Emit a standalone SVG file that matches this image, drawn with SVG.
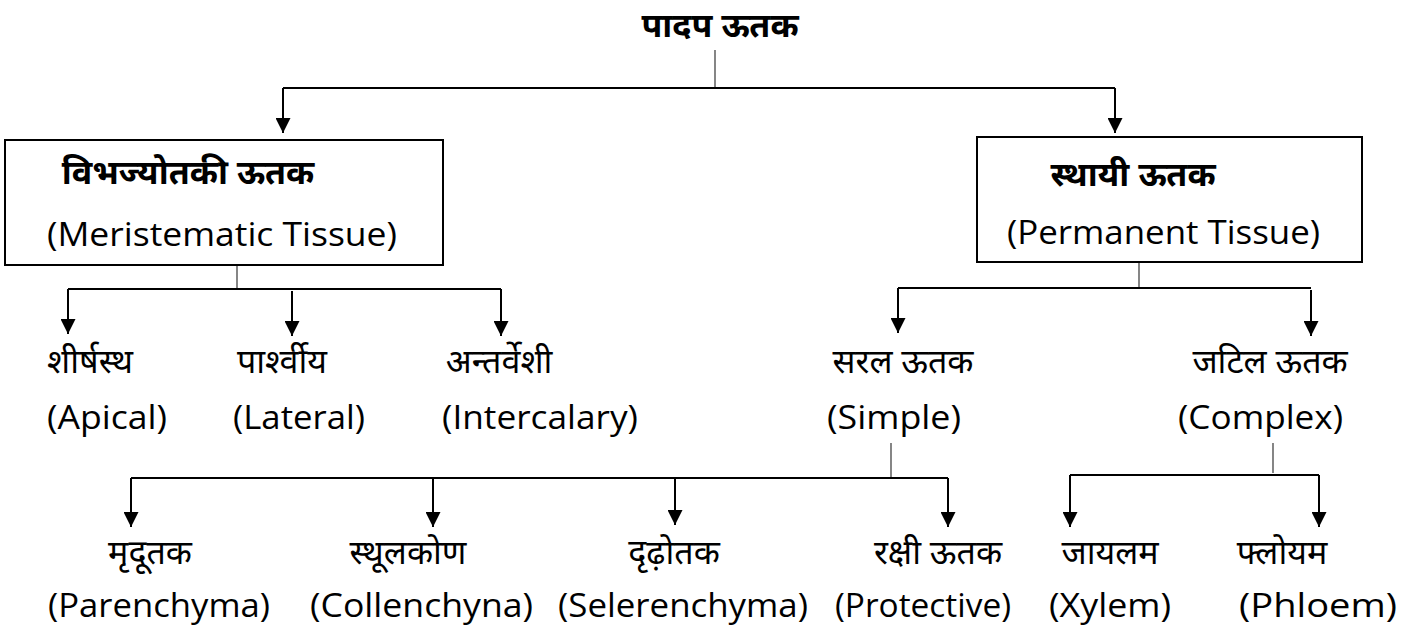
<svg xmlns="http://www.w3.org/2000/svg" width="1407" height="628" viewBox="0 0 1407 628">
<style>
.en{font-family:"Open Sans","Noto Sans",sans-serif;font-size:33px;fill:#000}
.hi{font-family:"Noto Sans","Noto Sans Devanagari",sans-serif;font-size:34px;fill:#000;text-anchor:middle}
.hb{font-weight:bold}
.box{fill:#fff;stroke:#000;stroke-width:2}
.ln{stroke:#000;stroke-width:2;fill:none}
.st{stroke:#444;stroke-width:1.3;fill:none}
</style>
<defs>
<marker id="ah" viewBox="0 0 16 15" refX="15" refY="7.5" markerWidth="16" markerHeight="15" markerUnits="userSpaceOnUse" orient="auto">
<path d="M0,0 L15,7.5 L0,15 z" fill="#000"/>
</marker>
</defs>
<rect width="1407" height="628" fill="#fff"/>
<g id="connectors">
<line class="st" x1="715" y1="50" x2="715" y2="88"/>
<path class="ln" d="M283,88 H1115"/>
<line class="ln" x1="283" y1="88" x2="283" y2="133" marker-end="url(#ah)"/>
<line class="ln" x1="1115" y1="88" x2="1115" y2="133" marker-end="url(#ah)"/>
<line class="st" x1="237" y1="265" x2="237" y2="289"/>
<path class="ln" d="M68,289 H501"/>
<line class="ln" x1="68" y1="289" x2="68" y2="334" marker-end="url(#ah)"/>
<line class="ln" x1="292" y1="291" x2="292" y2="336" marker-end="url(#ah)"/>
<line class="ln" x1="501" y1="289" x2="501" y2="336" marker-end="url(#ah)"/>
<line class="st" x1="1139" y1="262" x2="1139" y2="288"/>
<path class="ln" d="M898,288 H1311"/>
<line class="ln" x1="898" y1="288" x2="898" y2="333" marker-end="url(#ah)"/>
<line class="ln" x1="1311" y1="290" x2="1311" y2="336" marker-end="url(#ah)"/>
<line class="st" x1="891" y1="443" x2="891" y2="478"/>
<path class="ln" d="M131,478 H948"/>
<line class="ln" x1="131" y1="478" x2="131" y2="527" marker-end="url(#ah)"/>
<line class="ln" x1="433" y1="478" x2="433" y2="527" marker-end="url(#ah)"/>
<line class="ln" x1="675" y1="478" x2="675" y2="525" marker-end="url(#ah)"/>
<line class="ln" x1="948" y1="478" x2="948" y2="527" marker-end="url(#ah)"/>
<line class="st" x1="1273" y1="443" x2="1273" y2="473"/>
<path class="ln" d="M1070,475 H1319"/>
<line class="ln" x1="1070" y1="475" x2="1070" y2="527" marker-end="url(#ah)"/>
<line class="ln" x1="1319" y1="475" x2="1319" y2="527" marker-end="url(#ah)"/>
</g>
<g id="root"><text class="hi hb" x="720" y="37" font-size="38">पादप ऊतक</text></g>
<g id="meristematic">
<rect class="box" x="5" y="140" width="438" height="125"/>
<text class="hi hb" x="188" y="184" font-size="30">विभज्योतकी ऊतक</text>
<text class="en" x="47" y="246" textLength="350" lengthAdjust="spacingAndGlyphs">(Meristematic Tissue)</text>
</g>
<g id="permanent">
<rect class="box" x="977" y="137" width="385" height="125"/>
<text class="hi hb" x="1133" y="186" font-size="33">स्थायी ऊतक</text>
<text class="en" x="1007" y="244" textLength="313" lengthAdjust="spacingAndGlyphs">(Permanent Tissue)</text>
</g>
<g id="apical">
<text class="hi" x="90" y="373">शीर्षस्थ</text>
<text class="en" x="47" y="429" textLength="120" lengthAdjust="spacingAndGlyphs">(Apical)</text>
</g>
<g id="lateral">
<text class="hi" x="282" y="373">पार्श्वीय</text>
<text class="en" x="233" y="429" textLength="132" lengthAdjust="spacingAndGlyphs">(Lateral)</text>
</g>
<g id="intercalary">
<text class="hi" x="499" y="373">अन्तर्वेशी</text>
<text class="en" x="442" y="429" textLength="196" lengthAdjust="spacingAndGlyphs">(Intercalary)</text>
</g>
<g id="simple">
<text class="hi" x="903" y="373">सरल ऊतक</text>
<text class="en" x="827" y="429" textLength="134" lengthAdjust="spacingAndGlyphs">(Simple)</text>
</g>
<g id="complex">
<text class="hi" x="1270" y="373">जटिल ऊतक</text>
<text class="en" x="1178" y="429" textLength="165" lengthAdjust="spacingAndGlyphs">(Complex)</text>
</g>
<g id="parenchyma">
<text class="hi" x="150" y="564">मृदूतक</text>
<text class="en" x="48" y="617" textLength="222" lengthAdjust="spacingAndGlyphs">(Parenchyma)</text>
</g>
<g id="collenchyma">
<text class="hi" x="408" y="564">स्थूलकोण</text>
<text class="en" x="310" y="617" textLength="223" lengthAdjust="spacingAndGlyphs">(Collenchyna)</text>
</g>
<g id="sclerenchyma">
<text class="hi" x="674" y="564">दृढ़ोतक</text>
<text class="en" x="558" y="617" textLength="250" lengthAdjust="spacingAndGlyphs">(Selerenchyma)</text>
</g>
<g id="protective">
<text class="hi" x="938" y="564">रक्षी ऊतक</text>
<text class="en" x="835" y="617" textLength="176" lengthAdjust="spacingAndGlyphs">(Protective)</text>
</g>
<g id="xylem">
<text class="hi" x="1110" y="564">जायलम</text>
<text class="en" x="1049" y="617" textLength="122" lengthAdjust="spacingAndGlyphs">(Xylem)</text>
</g>
<g id="phloem">
<text class="hi" x="1282" y="564">फ्लोयम</text>
<text class="en" x="1239" y="617" textLength="158" lengthAdjust="spacingAndGlyphs">(Phloem)</text>
</g>
</svg>
